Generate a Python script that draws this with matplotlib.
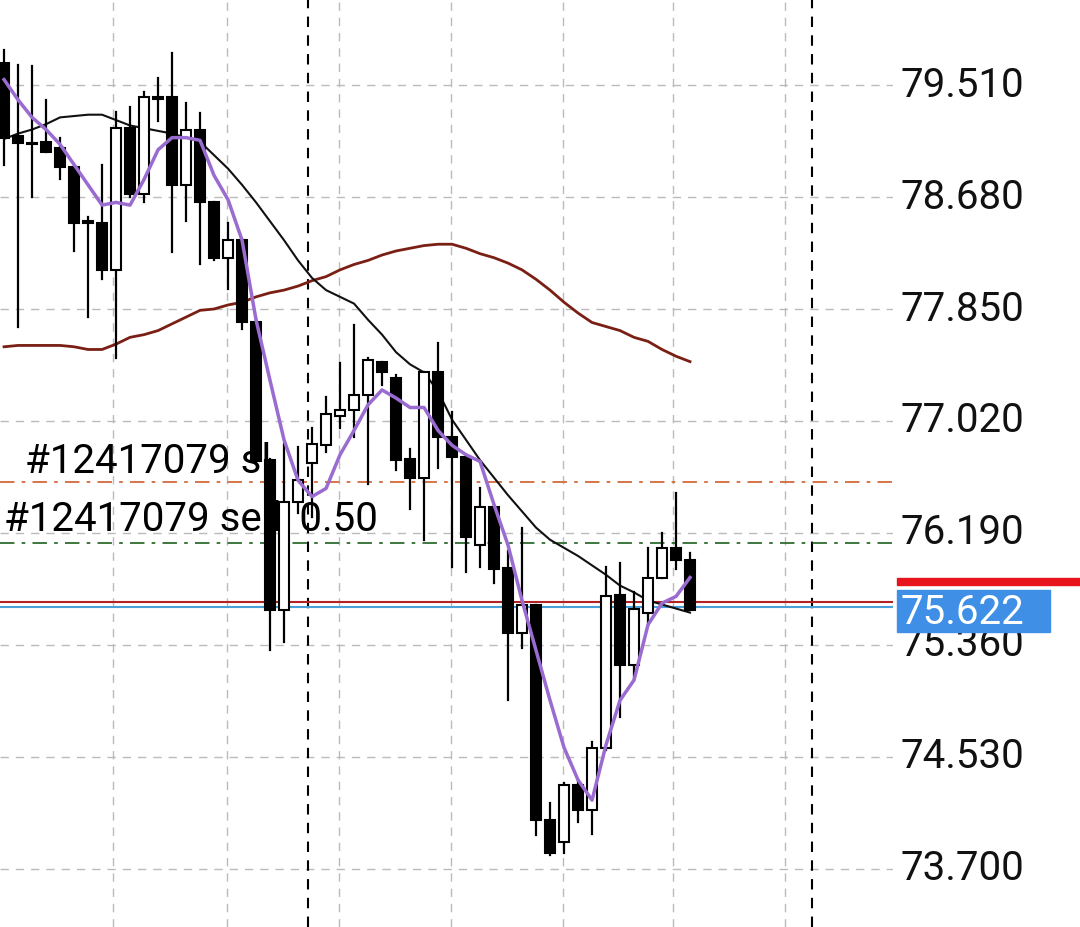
import matplotlib
matplotlib.use("Agg")
import matplotlib.pyplot as plt
from matplotlib.patches import Rectangle
import matplotlib.transforms as mtransforms

# --- data ---
opens  = [79.67, 79.13, 79.08, 79.09, 79.04, 78.90, 78.50, 78.49, 78.14, 79.19,
          78.70, 79.42, 79.42, 78.77, 79.18, 78.64, 78.23, 78.36, 77.75, 76.73,
          75.62, 76.42, 76.71, 76.84, 77.06, 77.10, 77.21, 77.46, 77.34, 76.74,
          76.60, 77.38, 76.90, 76.75, 76.10, 76.38, 75.93, 75.45, 75.66, 74.06,
          73.90, 74.32, 74.14, 74.60, 75.73, 75.21, 75.60, 75.86, 76.08, 75.99]
closes = [79.12, 79.08, 79.07, 79.01, 78.90, 78.49, 78.49, 78.14, 79.19, 78.70,
          79.42, 79.41, 78.77, 79.18, 78.64, 78.23, 78.36, 77.75, 76.72, 75.62,
          76.42, 76.58, 76.85, 77.07, 77.10, 77.21, 77.47, 77.38, 76.73, 76.60,
          77.38, 76.90, 76.75, 76.16, 76.38, 75.92, 75.45, 75.66, 74.06, 73.82,
          74.32, 74.14, 74.60, 75.72, 75.21, 75.63, 75.86, 76.08, 75.99, 75.62]
highs  = [79.77, 79.66, 79.65, 79.40, 79.12, 78.90, 78.53, 78.92, 79.31, 79.35,
          79.46, 79.56, 79.75, 79.38, 79.30, 78.64, 78.49, 78.37, 77.78, 76.74,
          76.85, 76.83, 76.97, 77.20, 77.45, 77.73, 77.49, 77.46, 77.36, 76.81,
          77.38, 77.60, 77.09, 76.76, 76.52, 76.40, 76.06, 76.23, 75.66, 74.19,
          74.34, 74.36, 74.64, 75.94, 75.97, 75.75, 76.08, 76.19, 76.49, 76.04]
lows   = [78.92, 77.72, 78.68, 79.01, 78.81, 78.28, 77.79, 78.07, 77.49, 78.68,
          78.64, 79.24, 78.27, 78.50, 78.18, 78.21, 78.00, 77.70, 76.70, 75.32,
          75.38, 76.34, 76.31, 76.79, 76.97, 76.90, 76.55, 77.29, 76.66, 76.37,
          76.14, 76.67, 75.94, 75.90, 75.94, 75.82, 74.95, 75.34, 73.95, 73.80,
          73.82, 74.05, 73.96, 74.58, 74.83, 75.10, 75.51, 75.86, 75.92, 75.62]

ma_fast = [79.55, 79.40, 79.27, 79.18, 79.07, 78.92, 78.77, 78.62, 78.64, 78.62,
           78.81, 79.03, 79.12, 79.12, 79.10, 78.84, 78.66, 78.36, 77.77, 77.32,
           76.88, 76.58, 76.46, 76.52, 76.77, 76.95, 77.14, 77.25, 77.19, 77.12,
           77.12, 76.95, 76.84, 76.77, 76.72, 76.40, 76.10, 75.69, 75.32, 74.95,
           74.60, 74.36, 74.21, 74.62, 74.95, 75.10, 75.51, 75.67, 75.72, 75.86]
ma_mid = [79.11, 79.15, 79.18, 79.22, 79.27, 79.28, 79.29, 79.29, 79.25, 79.21,
          79.19, 79.17, 79.15, 79.12, 79.09, 78.99, 78.89, 78.77, 78.64, 78.50,
          78.36, 78.21, 78.08, 77.99, 77.94, 77.89, 77.77, 77.66, 77.53, 77.44,
          77.38, 77.24, 77.03, 76.88, 76.73, 76.60, 76.47, 76.35, 76.23, 76.14,
          76.08, 76.02, 75.95, 75.88, 75.80, 75.75, 75.69, 75.66, 75.63, 75.60]
ma_slow = [77.57, 77.58, 77.58, 77.58, 77.58, 77.57, 77.55, 77.55, 77.59, 77.64,
           77.66, 77.69, 77.74, 77.79, 77.84, 77.85, 77.88, 77.90, 77.94, 77.97,
           77.99, 78.02, 78.06, 78.09, 78.14, 78.18, 78.21, 78.25, 78.28, 78.30,
           78.32, 78.33, 78.33, 78.30, 78.26, 78.23, 78.19, 78.14, 78.07, 77.99,
           77.90, 77.82, 77.75, 77.72, 77.69, 77.64, 77.61, 77.55, 77.50, 77.46]

price_ticks = [79.510, 78.680, 77.850, 77.020, 76.190, 75.360, 74.530, 73.700]
sl_level = 76.57
entry_level = 76.116
bid_line = 75.68
ask_line = 75.64
bid_label = "75.622"

plt.rcParams['font.family'] = ['Roboto', 'DejaVu Sans']

fig = plt.figure(figsize=(10.8, 9.27), dpi=100)
ax = fig.add_axes([0, 0, 893 / 1080, 1])
ax.set_xlim(-0.29, 63.5)
ax.set_ylim(73.27, 80.14)
ax.axis('off')

# grid
for p in price_ticks:
    ax.axhline(p, color='#bbbbbb', lw=1, ls=(0, (6, 5)), zorder=0)
for gx in [7.8, 15.9, 23.9, 31.9, 39.9, 47.8, 55.8]:
    ax.axvline(gx, color='#bbbbbb', lw=1, ls=(0, (6, 5)), zorder=0)
for gx in [21.7, 57.7]:
    ax.axvline(gx, color='black', lw=1.5, ls=(0, (5, 4)), zorder=0.5)

# order lines
ax.axhline(sl_level, color='#d2693c', lw=1.3, ls=(0, (8, 4, 2, 4)), zorder=1)
ax.axhline(entry_level, color='#2f6b2f', lw=1.3, ls=(0, (8, 4, 2, 4)), zorder=1)
ax.axhline(bid_line, color='#b22222', lw=1.5, zorder=1)
ax.axhline(ask_line, color='#4a9fd8', lw=1.5, zorder=1)

ax.text(1.5, 76.72, "#12417079 sl", fontsize=29, va='center', ha='left', zorder=1.5)
ax.text(0.0, 76.29, "#12417079 sell, 0.50", fontsize=29, va='center', ha='left', zorder=1.5)

# moving averages
xs = list(range(len(opens)))
ax.plot(xs, ma_slow, color='#7a1f14', lw=2, zorder=2)
ax.plot(xs, ma_mid, color='#111111', lw=1.5, zorder=2)

# candles
w = 0.7
for i in xs:
    o, c, h, l = opens[i], closes[i], highs[i], lows[i]
    ax.plot([i, i], [l, h], color='black', lw=1.6, zorder=3)
    bottom = min(o, c)
    height = max(abs(c - o), 0.012)
    face = 'white' if c > o else 'black'
    ax.add_patch(Rectangle((i - w / 2, bottom), w, height, facecolor=face,
                           edgecolor='black', lw=1.5, zorder=4))

ax.plot(xs, ma_fast, color='#9a6bd0', lw=2.5, zorder=5)

# right price scale
trans = mtransforms.blended_transform_factory(fig.transFigure, ax.transData)
for p in price_ticks:
    ax.text(900 / 1080, p, f"{p:.3f}", transform=trans, fontsize=29,
            va='center', ha='left', color='#111111', clip_on=False)

fig.patches.append(Rectangle((897 / 1080, 1 - 585 / 927), 183 / 1080, 7 / 927,
                             transform=fig.transFigure, color='#e8141b'))
fig.patches.append(Rectangle((897 / 1080, 1 - 632 / 927), 153 / 1080, 42 / 927,
                             transform=fig.transFigure, color='#3f8fe6'))
fig.text(901 / 1080, 1 - 612 / 927, bid_label, fontsize=29, color='white',
         va='center', ha='left')

fig.savefig("out.png", dpi=100)
